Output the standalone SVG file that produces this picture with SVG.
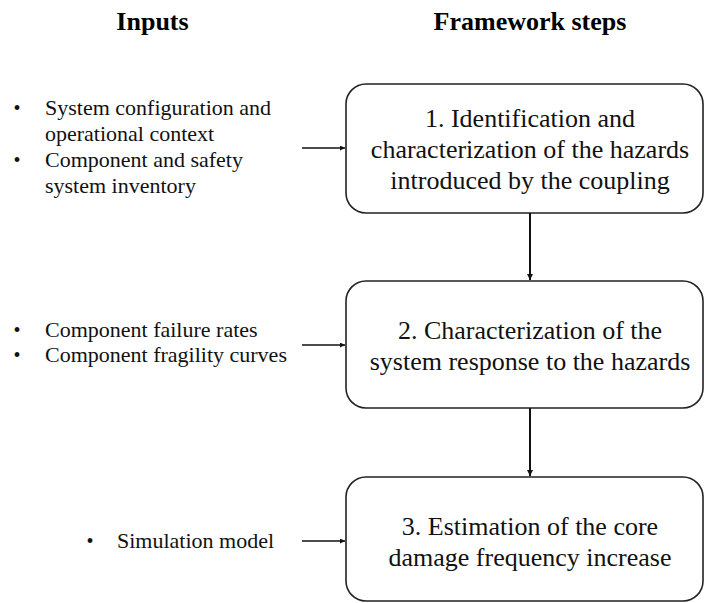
<svg xmlns="http://www.w3.org/2000/svg" width="704" height="603" viewBox="0 0 704 603">
<style>
.hdr{font-family:"Liberation Serif","Times New Roman",serif;font-weight:bold;font-size:26px;fill:#000;text-anchor:middle}
.box{fill:#fff;stroke:#222;stroke-width:1.6}
.bt{font-family:"Liberation Serif","Times New Roman",serif;font-size:26px;fill:#111;text-anchor:middle}
.in{font-family:"Liberation Serif","Times New Roman",serif;font-size:22px;fill:#111}
.bul{font-family:"Liberation Serif","Times New Roman",serif;font-size:20px;fill:#111;text-anchor:middle}
.v{stroke:#111;stroke-width:2;fill:none}
.h{stroke:#111;stroke-width:1.3;fill:none}
</style>
<defs>
<marker id="ah" viewBox="0 0 10 10" refX="10" refY="5" markerWidth="5" markerHeight="5" markerUnits="userSpaceOnUse" orient="auto"><path d="M0,0 L10,5 L0,10 z" fill="#111"/></marker>
<marker id="av" viewBox="0 0 10 10" refX="10" refY="5" markerWidth="6" markerHeight="6" markerUnits="userSpaceOnUse" orient="auto"><path d="M0,0 L10,5 L0,10 z" fill="#111"/></marker>
</defs>
<text class="hdr" x="152.5" y="30">Inputs</text>
<text class="hdr" x="530" y="30">Framework steps</text>

<g id="inputs1">
<text class="bul" x="17" y="115">•</text>
<text class="in" x="45" y="115">System configuration and</text>
<text class="in" x="45" y="141">operational context</text>
<text class="bul" x="17" y="167">•</text>
<text class="in" x="45" y="167">Component and safety</text>
<text class="in" x="45" y="193">system inventory</text>
</g>
<g id="inputs2">
<text class="bul" x="17" y="337">•</text>
<text class="in" x="45" y="337">Component failure rates</text>
<text class="bul" x="17" y="362">•</text>
<text class="in" x="45" y="362">Component fragility curves</text>
</g>
<g id="inputs3">
<text class="bul" x="90" y="548">•</text>
<text class="in" x="117" y="548">Simulation model</text>
</g>

<g id="step1">
<rect class="box" x="346" y="84" width="357" height="129" rx="20" ry="20"/>
<text class="bt" x="530" y="127">1. Identification and</text>
<text class="bt" x="530" y="158">characterization of the hazards</text>
<text class="bt" x="530" y="189">introduced by the coupling</text>
</g>
<g id="step2">
<rect class="box" x="346" y="281" width="357" height="127" rx="20" ry="20"/>
<text class="bt" x="530" y="339">2. Characterization of the</text>
<text class="bt" x="530" y="370">system response to the hazards</text>
</g>
<g id="step3">
<rect class="box" x="346" y="477" width="357" height="124" rx="20" ry="20"/>
<text class="bt" x="530" y="535">3. Estimation of the core</text>
<text class="bt" x="530" y="566">damage frequency increase</text>
</g>

<g id="connectors">
<line class="h" x1="302" y1="148" x2="345" y2="148" marker-end="url(#ah)"/>
<line class="h" x1="302" y1="345" x2="345" y2="345" marker-end="url(#ah)"/>
<line class="h" x1="302" y1="541" x2="345" y2="541" marker-end="url(#ah)"/>
<line class="v" x1="530" y1="213" x2="530" y2="280" marker-end="url(#av)"/>
<line class="v" x1="530" y1="408" x2="530" y2="476" marker-end="url(#av)"/>
</g>
</svg>
